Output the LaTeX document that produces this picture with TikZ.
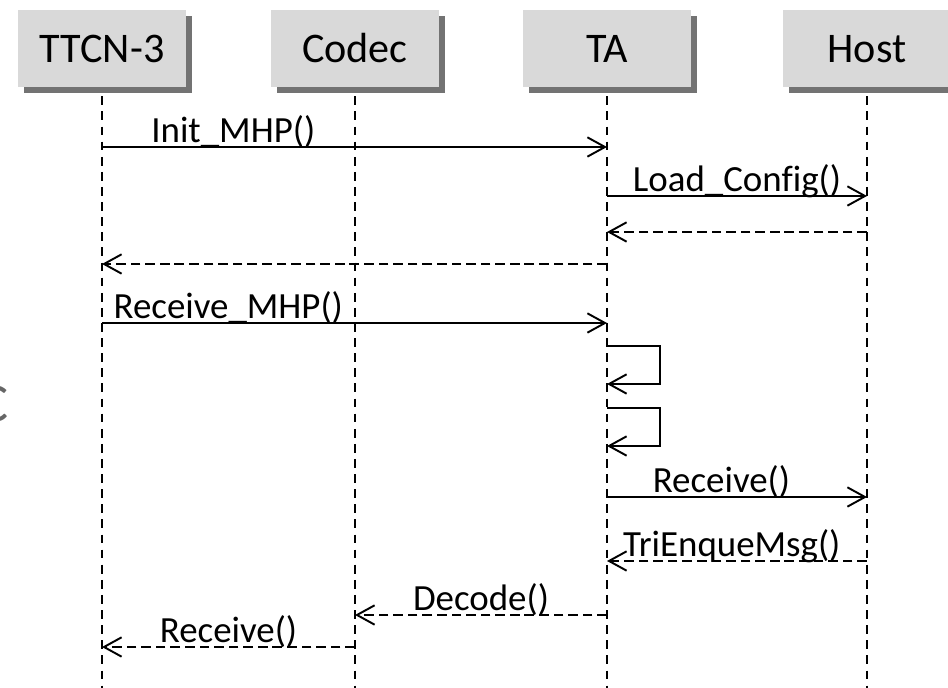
\documentclass[tikz,border=0pt]{standalone}
\usepackage{fontspec}
\setmainfont{Carlito}[Ligatures=NoCommon]
\usetikzlibrary{arrows.meta, shadows}

\begin{document}
\begin{tikzpicture}[x=0.02cm, y=-0.02cm,
    actor/.style={fill=black!15, minimum width=3.38cm, minimum height=1.54cm, inner sep=0pt,
        text height=15.5pt, text depth=0pt, font=\fontsize{24}{28}\selectfont,
        drop shadow={shadow xshift=0.12cm, shadow yshift=-0.12cm, fill=black!55, opacity=1}},
    lifeline/.style={line width=1.3pt, dash pattern=on 5pt off 3.6pt},
    call/.style={line width=1.1pt, -{Straight Barb[length=10pt, width=11pt, line width=1.1pt]}},
    reply/.style={call, dash pattern=on 5.5pt off 2.8pt},
    msg/.style={anchor=base, inner sep=0pt, yshift=0.08cm, font=\fontsize{21}{25}\selectfont}]
    \useasboundingbox (0,0) rectangle (948,688);

    % stray letter at the left edge
    \node[anchor=east, inner sep=0pt, text=black!60, font=\fontsize{31}{36}\selectfont] (stray) at (9,404) {C};

    % actors
    \node[actor] (ttcn) at (102,48.5) {TTCN-3};
    \node[actor] (codec) at (355,48.5) {Codec};
    \node[actor] (ta) at (607,48.5) {TA};
    \node[actor] (host) at (867,48.5) {Host};

    % lifelines
    \coordinate (bot) at (0,692);
    \foreach \a in {ttcn, codec, ta, host}
        \draw[lifeline] (\a.south) ++(0,9) -- (\a |- bot);

    % message rows
    \coordinate (r1) at (0,147);
    \coordinate (r2) at (0,196);
    \coordinate (r3) at (0,232);
    \coordinate (r4) at (0,264);
    \coordinate (r5) at (0,323);
    \coordinate (s1) at (0,346);
    \coordinate (s2) at (0,408);
    \coordinate (r6) at (0,497);
    \coordinate (r7) at (0,561);
    \coordinate (r8) at (0,615);
    \coordinate (r9) at (0,647);

    \draw[call] (ttcn |- r1) -- (ta |- r1) node[msg, pos=.26] {Init\_MHP()};
    \draw[call] (ta |- r2) -- (host |- r2) node[msg, midway] {Load\_Config()};
    \draw[reply] (host |- r3) -- (ta |- r3);
    \draw[reply] (ta |- r4) -- (ttcn |- r4);
    \draw[call] (ttcn |- r5) -- (ta |- r5) node[msg, pos=.25] {Receive\_MHP()};

    % self calls on TA
    \draw[call] (ta |- s1) -- ++(53,0) -- ++(0,38) -- ++(-53,0);
    \draw[call] (ta |- s2) -- ++(53,0) -- ++(0,38) -- ++(-53,0);

    \draw[call] (ta |- r6) -- (host |- r6) node[msg, pos=.44] {Receive()};
    \draw[reply] (host |- r7) -- (ta |- r7) node[msg, pos=.52] {TriEnqueMsg()};
    \draw[reply] (ta |- r8) -- (codec |- r8) node[msg, midway] {Decode()};
    \draw[reply] (codec |- r9) -- (ttcn |- r9) node[msg, midway] {Receive()};
\end{tikzpicture}
\end{document}
